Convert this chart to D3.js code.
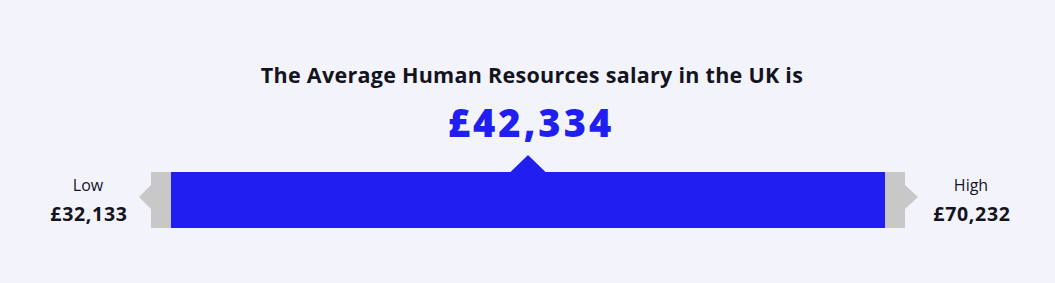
<!DOCTYPE html>
<html>
<head>
<meta charset="utf-8">
<script src="https://cdn.jsdelivr.net/npm/d3@7"></script>
<style>
  html, body { margin: 0; padding: 0; background: #f3f3fc; }
  svg { display: block; font-family: "Open Sans", "Noto Sans", sans-serif; }
</style>
</head>
<body>
<svg></svg>
<script>
// Chart data
const title = "The Average Human Resources salary in the UK is";
const rangeLabels = ["Low", "High"];
const rangeValues = [32133, 70232];
const averageValue = 42334;

const width = 1055;
const height = 283;

const svg = d3.select("svg")
  .attr("width", width)
  .attr("height", height);

const fmt = v => "£" + d3.format(",")(v);

// inner (blue) band
const x = d3.scaleLinear()
  .domain(rangeValues)
  .range([171, 885]);

const barTop = 172;
const barH = 56;
const cap = 20;

// grey end caps
svg.append("rect")
  .attr("x", x(rangeValues[0]) - cap)
  .attr("y", barTop)
  .attr("width", x(rangeValues[1]) - x(rangeValues[0]) + cap * 2)
  .attr("height", barH)
  .attr("fill", "#c8c8c8");

// blue range
svg.append("rect")
  .attr("x", x(rangeValues[0]))
  .attr("y", barTop)
  .attr("width", x(rangeValues[1]) - x(rangeValues[0]))
  .attr("height", barH)
  .attr("fill", "#201ef0");

// side arrows
const mid = barTop + barH / 2 - 3;
const lx = x(rangeValues[0]) - cap;
const rx = x(rangeValues[1]) + cap;
svg.append("path")
  .attr("d", `M${lx},${mid - 12} L${lx - 12},${mid} L${lx},${mid + 12} Z`)
  .attr("fill", "#c8c8c8");
svg.append("path")
  .attr("d", `M${rx},${mid - 12} L${rx + 13},${mid} L${rx},${mid + 12} Z`)
  .attr("fill", "#c8c8c8");

// pointer (marker sits in the middle of the band)
const px = (x(rangeValues[0]) + x(rangeValues[1])) / 2;
svg.append("path")
  .attr("d", `M${px - 17.5},${barTop} L${px},${barTop - 17} L${px + 17.5},${barTop} Z`)
  .attr("fill", "#201ef0");

// title
svg.append("text")
  .attr("x", 532)
  .attr("y", 83)
  .attr("text-anchor", "middle")
  .attr("font-size", 21.5)
  .attr("font-weight", 700)
  .attr("letter-spacing", 0.28)
  .attr("fill", "#14141e")
  .text(title);

svg.append("text")
  .attr("x", px + 3)
  .attr("y", 137)
  .attr("text-anchor", "middle")
  .attr("font-size", 38)
  .attr("font-weight", 800)
  .attr("letter-spacing", 3)
  .attr("fill", "#201ef0")
  .text(fmt(averageValue));

// low / high labels
const labelX = [89, 972];
rangeLabels.forEach((lab, i) => {
  svg.append("text")
    .attr("x", labelX[i] - 1)
    .attr("y", 191)
    .attr("text-anchor", "middle")
    .attr("font-size", 16)
    .attr("fill", "#14141e")
    .text(lab);
  svg.append("text")
    .attr("x", labelX[i])
    .attr("y", 221)
    .attr("text-anchor", "middle")
    .attr("font-size", 19.5)
    .attr("font-weight", 700)
    .attr("letter-spacing", 0.7)
    .attr("fill", "#14141e")
    .text(fmt(rangeValues[i]));
});
</script>
</body>
</html>
